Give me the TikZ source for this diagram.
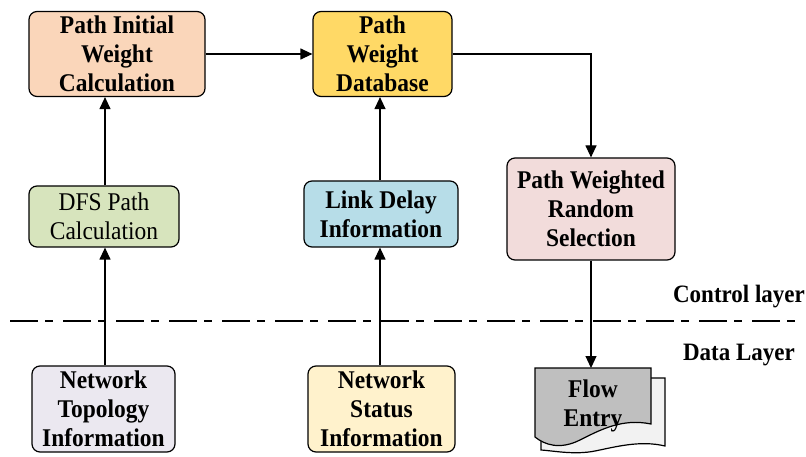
\documentclass[tikz,border=0pt]{standalone}
\usepackage{fontspec}
\setmainfont{Liberation Serif}
\newfontfamily\condfont[FakeStretch=0.92]{Liberation Serif}
\usetikzlibrary{arrows.meta}
\definecolor{cpeach}{HTML}{FAD6BA}
\definecolor{cyellow}{HTML}{FFD966}
\definecolor{cpink}{HTML}{F2DCDB}
\definecolor{cgreen}{HTML}{D7E4BD}
\definecolor{cblue}{HTML}{B7DDE8}
\definecolor{clav}{HTML}{EBE8F0}
\definecolor{ccream}{HTML}{FFF2CC}
\definecolor{cfront}{HTML}{BFBFBF}
\definecolor{cback}{HTML}{F2F2F2}
\tikzset{
  box/.style={draw=black, line width=1.2pt, rounded corners=8pt, align=center, inner sep=0pt,
    font=\condfont\fontsize{25.5}{29}\selectfont\bfseries},
  regbox/.style={box, font=\condfont\fontsize{25.5}{29}\selectfont},
  arr/.style={line width=1.2pt, -{Triangle[length=12pt,width=11pt]}},
  lbl/.style={font=\condfont\fontsize{25}{25}\selectfont\bfseries, inner sep=0pt},
}
\begin{document}
\begin{tikzpicture}[x=1pt,y=-1pt]
\useasboundingbox (0,0) rectangle (806,457);
% boxes
\node[box, fill=cpeach, minimum width=176pt, minimum height=85pt] (piwc) at (117,54) {Path Initial\\Weight\\Calculation};
\node[box, fill=cyellow, minimum width=139pt, minimum height=85pt] (pwd) at (382.5,54) {Path\\Weight\\Database};
\node[box, fill=cpink, minimum width=168pt, minimum height=102pt] (pwrs) at (591,209) {Path Weighted\\Random\\Selection};
\node[regbox, fill=cgreen, minimum width=150pt, minimum height=61pt] (dfs) at (104,216.5) {DFS Path\\Calculation};
\node[box, fill=cblue, minimum width=154pt, minimum height=66pt] (ldi) at (381,214) {Link Delay\\Information};
\node[box, fill=clav, minimum width=143pt, minimum height=86pt] (nti) at (103.5,409) {Network\\Topology\\Information};
\node[box, fill=ccream, minimum width=147pt, minimum height=86pt] (nsi) at (381.5,409) {Network\\Status\\Information};
% flow entry document
\draw[line width=1.2pt, fill=cback] (545,378) -- (665,378) -- (665,446)
  .. controls (640,440) and (615,447) .. (595,451)
  .. controls (575,455) and (555,451) .. (541,450) -- (541,430) -- cycle;
\draw[line width=1.2pt, fill=cfront] (535,368) -- (651,368) -- (651,424)
  .. controls (622,418) and (600,430) .. (580,440)
  .. controls (560,450) and (545,445) .. (535,437) -- cycle;
\node[box, draw=none, fill=none, minimum width=116pt] (flow) at (593,406) {Flow\\Entry};
\coordinate (ftop) at (591,368);
% connectors
\draw[arr] (piwc.east) -- (pwd.west);
\draw[arr] (pwd.east) -| (pwrs.north);
\draw[arr] (pwrs.south) -- (ftop);
\draw[arr] (dfs.north -| 105,0) -- (piwc.south -| 105,0);
\draw[arr] (nti.north -| 105,0) -- (dfs.south -| 105,0);
\draw[arr] (ldi.north -| 380,0) -- (pwd.south -| 380,0);
\draw[arr] (nsi.north -| 380,0) -- (ldi.south -| 380,0);
% layer separator
\coordinate (sepL) at (10,321);
\coordinate (sepR) at (800,321);
\draw[line width=1.2pt, dash pattern=on 28pt off 7pt on 8pt off 10pt] (sepL) -- (sepR);
\node[lbl] (ctl) at (739,297) {Control layer};
\node[lbl] (dat) at (739,355) {Data Layer};
\end{tikzpicture}
\end{document}
